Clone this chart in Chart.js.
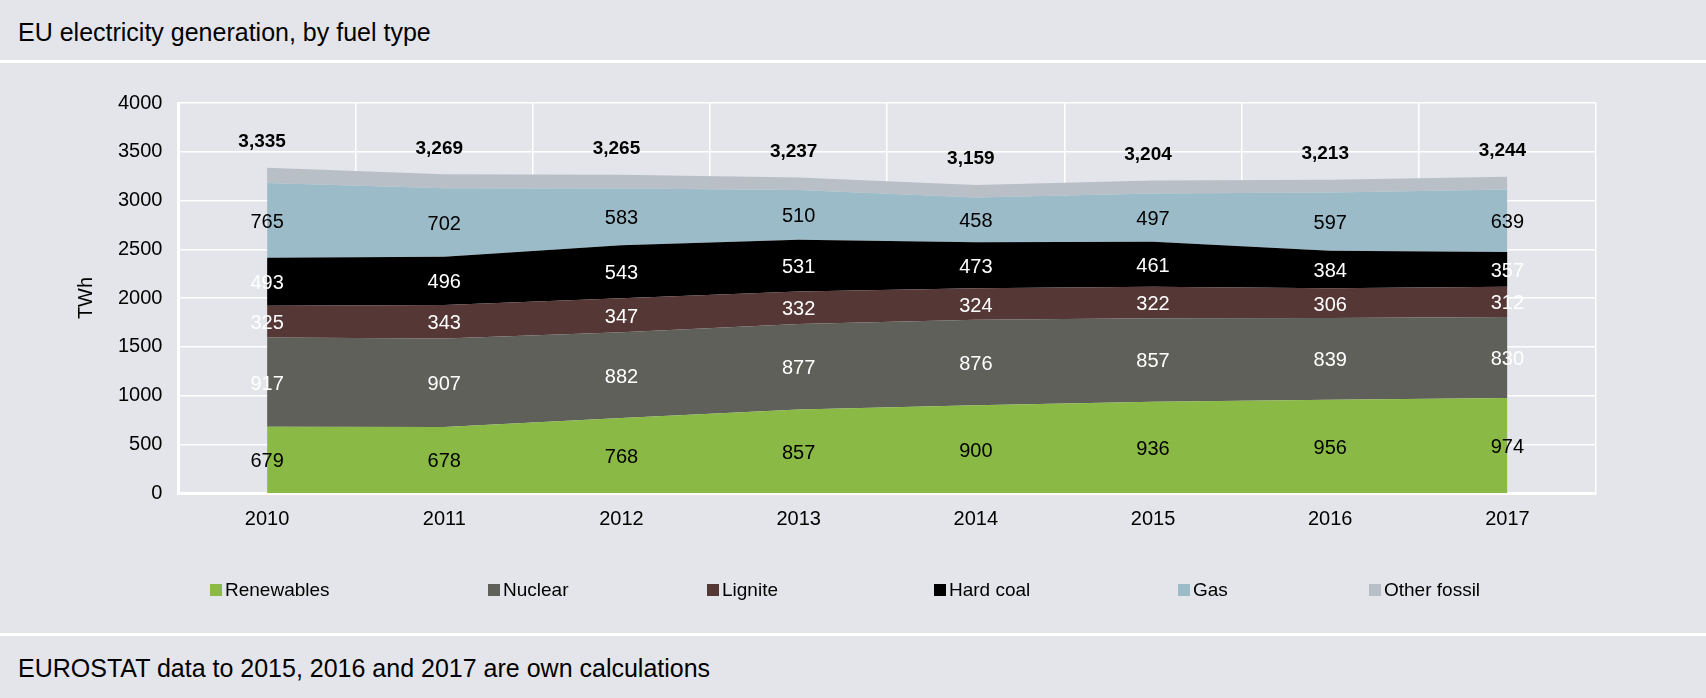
<!DOCTYPE html>
<html><head><meta charset="utf-8">
<script src="https://cdn.jsdelivr.net/npm/chart.js@4.4.0/dist/chart.umd.min.js"></script>
<style>
html,body{margin:0;padding:0;background:#fff;font-family:"Liberation Sans",Arial,sans-serif;}
.band{position:absolute;left:0;width:1706px;background:#e4e5ea;color:#000;font-size:25px;box-sizing:border-box;padding-left:18px;}
#top{top:0;height:60px;line-height:64px;}
#mid{top:63px;height:570px;padding:0;}
#bot{top:636px;height:62px;line-height:64px;}
</style></head>
<body>
<div class="band" id="top">EU electricity generation, by fuel type</div>
<div class="band" id="mid"><canvas id="c" width="1706" height="570"></canvas></div>
<div class="band" id="bot">EUROSTAT data to 2015, 2016 and 2017 are own calculations</div>
<script>
var years = ["2010","2011","2012","2013","2014","2015","2016","2017"];
var renewables = [679,678,768,857,900,936,956,974];
var nuclear = [917,907,882,877,876,857,839,830];
var lignite = [325,343,347,332,324,322,306,312];
var hardCoal = [493,496,543,531,473,461,384,357];
var gas = [765,702,583,510,458,497,597,639];
var otherFossil = [156,143,142,130,128,131,131,132];
var totals = [3335,3269,3265,3237,3159,3204,3213,3244];
var seriesNames = ["Renewables","Nuclear","Lignite","Hard coal","Gas","Other fossil"];
var seriesColors = ["#8aba45","#60605a","#553735","#000000","#9cbbc8","#b8bfc6"];
var labelColors = ["#000","#fff","#fff","#fff","#000",null];
var seriesData = [renewables,nuclear,lignite,hardCoal,gas,otherFossil];
var FONT = "'Liberation Sans', Arial, sans-serif";

var labelPlugin = {
  id: "labels",
  afterDatasetsDraw: function(chart) {
    var ctx = chart.ctx, x = chart.scales.x, y = chart.scales.y;
    ctx.save();
    ctx.textAlign = "center"; ctx.textBaseline = "middle";
    ctx.font = "20px " + FONT;
    years.forEach(function(yr, i) {
      var base = 0;
      seriesData.forEach(function(s, k) {
        var mid = base + s[i] / 2;
        base += s[i];
        if (!labelColors[k]) return;
        ctx.fillStyle = labelColors[k];
        ctx.fillText(String(s[i]), x.getPixelForValue(i), y.getPixelForValue(mid) + 2);
      });
    });
    ctx.font = "bold 19px " + FONT;
    ctx.fillStyle = "#000";
    totals.forEach(function(t, i) {
      ctx.fillText(t.toLocaleString("en-US"), x.getPixelForValue(i) - 5, y.getPixelForValue(t) - 26);
    });
    // legend
    ctx.font = "19px " + FONT; ctx.textAlign = "left";
    var lx = [210, 488, 707, 934, 1178, 1369];
    seriesNames.forEach(function(n, k) {
      ctx.fillStyle = seriesColors[k];
      ctx.fillRect(lx[k], 521, 12, 12);
      ctx.fillStyle = "#000";
      ctx.fillText(n, lx[k] + 15, 528);
    });
    ctx.restore();
  }
};

new Chart(document.getElementById("c"), {
  type: "line",
  data: {
    labels: years,
    datasets: seriesNames.map(function(n, k) {
      return {
        label: n, data: seriesData[k], backgroundColor: seriesColors[k],
        borderWidth: 0, pointRadius: 0, fill: k === 0 ? "origin" : "-1", tension: 0
      };
    })
  },
  options: {
    responsive: false, animation: false,
    layout: { padding: { left: 70, right: 110, top: 40, bottom: 88 } },
    plugins: { legend: { display: false }, tooltip: { enabled: false } },
    scales: {
      x: {
        offset: true,
        grid: { offset: true, color: "#fff", lineWidth: 1.5, drawTicks: false },
        border: { color: "#fff", width: 3 },
        ticks: { color: "#000", font: { size: 20, family: FONT }, padding: 14 }
      },
      y: {
        stacked: true, min: 0, max: 4000,
        ticks: { stepSize: 500, color: "#000", font: { size: 20, family: FONT }, padding: 16,
                 callback: function(v) { return String(v); } },
        grid: { color: "#fff", lineWidth: 1.5, drawTicks: false },
        border: { color: "#fff", width: 3 },
        title: { display: true, text: "TWh", color: "#000", font: { size: 20, family: FONT }, padding: 4 }
      }
    }
  },
  plugins: [labelPlugin]
});
</script>
</body></html>
